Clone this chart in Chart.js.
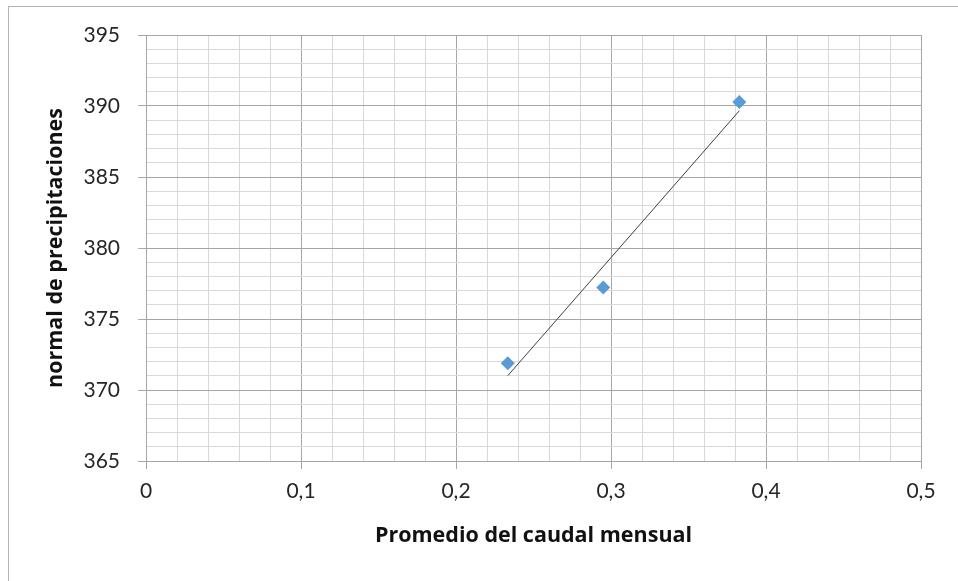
<!DOCTYPE html>
<html>
<head>
<meta charset="utf-8">
<script src="https://cdn.jsdelivr.net/npm/chart.js@4.4.1/dist/chart.umd.min.js"></script>
<style>
  html, body { margin: 0; padding: 0; background: #fff; }
  #wrap { position: relative; width: 958px; height: 581px; overflow: hidden; }
  #frame { position: absolute; left: 8px; top: 6px; width: 980px; height: 600px; border: 1px solid #b4b4b4; box-sizing: border-box; }
  #chart { position: absolute; left: 0; top: 0; }
</style>
</head>
<body>
<div id="wrap">
  <div id="frame"></div>
  <canvas id="chart" width="958" height="581"></canvas>
</div>
<script>
// caudal medio mensual vs. precipitación normal
const caudal = [0.2334, 0.2950, 0.3828];
const precipitacion = [371.88, 377.21, 390.28];
const xTicksMajor = [0, 0.1, 0.2, 0.3, 0.4, 0.5];
const yTicksMajor = [365, 370, 375, 380, 385, 390, 395];

const points = caudal.map((x, i) => ({ x: x, y: precipitacion[i] }));

// linear trend (least squares) over the measured points
const n = caudal.length;
const mx = caudal.reduce((a, b) => a + b, 0) / n;
const my = precipitacion.reduce((a, b) => a + b, 0) / n;
let sxy = 0, sxx = 0;
caudal.forEach((x, i) => { sxy += (x - mx) * (precipitacion[i] - my); sxx += (x - mx) * (x - mx); });
const slope = sxy / sxx;
const x0 = Math.min(...caudal), x1 = Math.max(...caudal);
const trend = [
  { x: x0, y: my + slope * (x0 - mx) },
  { x: x1, y: my + slope * (x1 - mx) }
];

const MAJOR = '#a6a6a6', MINOR = '#d9d9d9';
const isMajorX = v => xTicksMajor.some(t => Math.abs(t - v) < 1e-6);
const isMajorY = v => yTicksMajor.some(t => Math.abs(t - v) < 1e-6);

new Chart(document.getElementById('chart').getContext('2d'), {
  type: 'scatter',
  data: {
    datasets: [
      {
        label: 'normal de precipitaciones',
        data: points,
        pointStyle: 'rectRot',
        pointRadius: 7,
        pointHoverRadius: 7,
        backgroundColor: '#5b9bd5',
        borderColor: '#5b9bd5',
        borderWidth: 0,
        order: 1
      },
      {
        label: 'tendencia',
        data: trend,
        type: 'line',
        showLine: true,
        pointRadius: 0,
        borderColor: '#3f3f3f',
        borderWidth: 1,
        fill: false,
        order: 2
      }
    ]
  },
  options: {
    responsive: false,
    animation: false,
    devicePixelRatio: 1,
    layout: { padding: { left: 0, top: 35, right: 37, bottom: 0 } },
    plugins: { legend: { display: false }, tooltip: { enabled: false } },
    scales: {
      x: {
        type: 'linear',
        min: 0, max: 0.5,
        afterFit: s => { s.height = 120; },
        ticks: {
          stepSize: 0.02,
          autoSkip: false,
          maxRotation: 0,
          padding: 10,
          color: '#262626',
          font: { family: 'Lato', size: 21 },
          callback: v => isMajorX(v) ? String(Math.round(v * 10) / 10).replace('.', ',') : ''
        },
        grid: {
          color: c => isMajorX(c.tick.value) ? MAJOR : MINOR,
          tickColor: c => isMajorX(c.tick.value) ? MAJOR : 'rgba(0,0,0,0)',
          tickLength: 8
        },
        border: { color: MAJOR },
        title: {
          display: true,
          text: 'Promedio del caudal mensual',
          color: '#111',
          font: { family: 'Open Sans', size: 21.5, weight: 'bold' },
          padding: { top: 0, bottom: 32 }
        }
      },
      y: {
        min: 365, max: 395,
        afterFit: s => { s.width = 146; },
        ticks: {
          stepSize: 1,
          autoSkip: false,
          padding: 18,
          color: '#262626',
          font: { family: 'Lato', size: 21 },
          callback: v => isMajorY(v) ? String(v) : ''
        },
        grid: {
          color: c => isMajorY(c.tick.value) ? MAJOR : MINOR,
          tickColor: c => isMajorY(c.tick.value) ? MAJOR : 'rgba(0,0,0,0)',
          tickLength: 8
        },
        border: { color: MAJOR },
        title: {
          display: true,
          text: 'normal de precipitaciones',
          color: '#111',
          font: { family: 'Open Sans', size: 21.5, weight: 'bold' },
          padding: { top: 43, bottom: 0 }
        }
      }
    }
  }
});
</script>
</body>
</html>
